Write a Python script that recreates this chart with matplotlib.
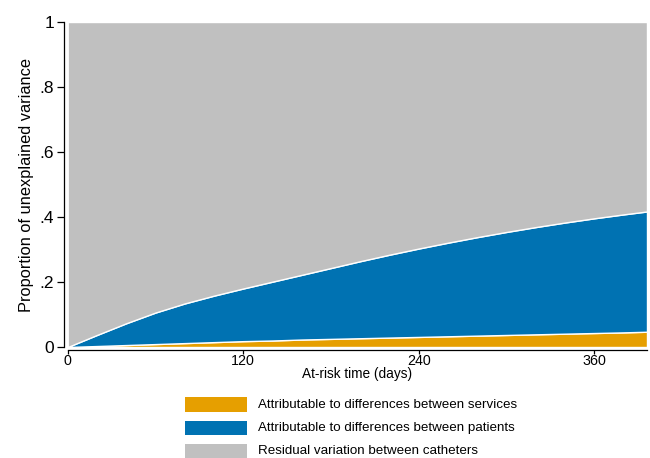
import matplotlib
matplotlib.use("Agg")
import matplotlib.pyplot as plt
from matplotlib.patches import Rectangle
import numpy as np

plt.rcParams['font.family'] = ['Liberation Sans', 'DejaVu Sans']

# At-risk time (days) and variance shares
days = [0, 20, 40, 60, 80, 100, 120, 140, 160, 180, 200, 220, 240, 260,
        280, 300, 320, 340, 360, 380, 396]
services = [0.000, 0.003, 0.006, 0.009, 0.012, 0.015, 0.018, 0.020, 0.023,
            0.025, 0.027, 0.029, 0.031, 0.033, 0.035, 0.037, 0.039, 0.041,
            0.043, 0.045, 0.047]
patients = [0.000, 0.034, 0.067, 0.097, 0.122, 0.143, 0.162, 0.181, 0.199,
            0.218, 0.237, 0.255, 0.272, 0.288, 0.303, 0.317, 0.330, 0.342,
            0.353, 0.363, 0.370]

labels = ["Attributable to differences between services",
          "Attributable to differences between patients",
          "Residual variation between catheters"]
colors = ["#E69F00", "#0072B2", "#C0C0C0"]

x_ticks = [0, 120, 240, 360]
y_ticks = [0, 0.2, 0.4, 0.6, 0.8, 1.0]
y_tick_labels = ["0", ".2", ".4", ".6", ".8", "1"]

W, H = 650, 458
fig = plt.figure(figsize=(W / 100, H / 100), dpi=100)
ax = fig.add_axes([67.7 / W, (H - 347) / H, (647 - 67.7) / W, 325 / H])

x = np.array(days)
s = np.array(services)
p = s + np.array(patients)
top = np.ones_like(x, dtype=float)

ax.fill_between(x, 0, s, facecolor=colors[0], edgecolor="white", linewidth=1.0)
ax.fill_between(x, s, p, facecolor=colors[1], edgecolor="white", linewidth=1.0)
ax.fill_between(x, p, top, facecolor=colors[2], edgecolor="white", linewidth=1.0)

ax.set_xlim(0, 396)
ax.set_ylim(0, 1)
ax.set_xticks(x_ticks)
ax.set_yticks(y_ticks)
ax.set_yticklabels(y_tick_labels)

for side in ["top", "right"]:
    ax.spines[side].set_visible(False)
ax.spines["left"].set_position(("outward", 2.7))
ax.spines["bottom"].set_position(("outward", 2.3))
for side in ["left", "bottom"]:
    ax.spines[side].set_linewidth(0.9)
    ax.spines[side].set_color("black")

ax.tick_params(axis="y", length=5, width=0.9, labelsize=12.5, pad=2)
ax.tick_params(axis="x", length=3, width=0.9, labelsize=10.3, pad=0)
ax.set_ylabel("Proportion of unexplained variance", fontsize=11.8, labelpad=4)
ax.set_xlabel("At-risk time (days)", fontsize=9.8, labelpad=-1)

# Legend rows below the plot
def px_to_fig(xp, yp):
    return xp / W, 1 - yp / H

rows_top = [397.3, 420.7, 444.3]
for lab, col, yt in zip(labels, colors, rows_top):
    x0, y0 = px_to_fig(185, yt + 14.4)
    fig.add_artist(Rectangle((x0, y0), 61.7 / W, 14.4 / H,
                             transform=fig.transFigure, facecolor=col,
                             edgecolor="none"))
    tx, ty = px_to_fig(257.5, yt + 7.2)
    fig.text(tx, ty, lab, fontsize=9.6, va="center", ha="left")

fig.savefig("out.png", dpi=100)
